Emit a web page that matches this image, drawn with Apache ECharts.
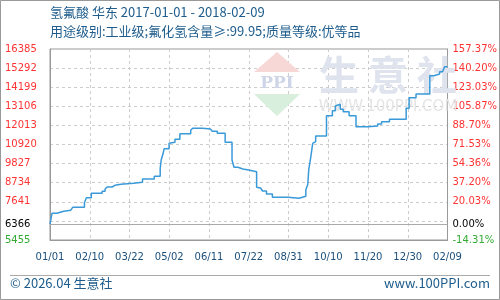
<!DOCTYPE html>
<html><head><meta charset="utf-8">
<script src="https://cdn.jsdelivr.net/npm/echarts@6/dist/echarts.min.js"></script>
<style>html,body{margin:0;padding:0;background:#fff}#c{width:500px;height:300px}</style>
</head><body><div id="c"></div>
<script>
const dates = ['2017-01-01','2017-01-03','2017-01-08','2017-01-15','2017-01-22','2017-01-24','2017-02-05','2017-02-07','2017-02-12','2017-02-23','2017-02-26','2017-02-28','2017-03-05','2017-03-08','2017-03-14','2017-03-27','2017-04-05','2017-04-17','2017-04-23','2017-04-24','2017-04-26','2017-04-27','2017-05-02','2017-05-04','2017-05-08','2017-05-13','2017-05-24','2017-05-26','2017-06-05','2017-06-07','2017-06-13','2017-06-15','2017-06-20','2017-06-28','2017-07-05','2017-07-07','2017-07-11','2017-07-16','2017-07-22','2017-07-30','2017-08-01','2017-08-03','2017-08-05','2017-08-09','2017-08-15','2017-08-31','2017-09-11','2017-09-13','2017-09-18','2017-09-20','2017-09-21','2017-09-23','2017-09-25','2017-09-27','2017-09-28','2017-10-09','2017-10-15','2017-10-18','2017-10-20','2017-10-23','2017-10-26','2017-11-01','2017-11-08','2017-11-20','2017-11-22','2017-11-30','2017-12-04','2017-12-12','2017-12-29','2018-01-01','2018-01-08','2018-01-22','2018-01-26','2018-02-01','2018-02-04','2018-02-06','2018-02-09'];
const values = [6366,6983,7097,7155,7229,7326,7600,7876,8127,8242,8373,8488,8585,8642,8700,8757,8945,9100,9557,10033,10416,10679,10988,11045,11217,11538,11732,11847,11904,11806,11766,11675,11560,11045,10033,9615,9518,9460,9363,8470,8430,8356,8259,8087,7898,7841,7898,7955,8316,8642,9500,10187,10988,11080,11406,12567,12853,13123,13220,12934,12796,12567,11938,11870,11978,12093,12224,12361,12991,13597,13809,14856,14954,15085,15183,15371,15371];
const xTickLabels = ['01/01','02/10','03/22','05/02','06/11','07/22','08/31','10/10','11/20','12/30','02/09'];
const leftTickValues = [16385,15292,14199,13106,12013,10920,9827,8734,7641,6366,5455];
const rightTickLabels = ['157.37%','140.20%','123.03%','105.87%','88.70%','71.53%','54.36%','37.20%','20.03%','0.00%','-14.31%'];
const baseValue = 6366;
const titleText = '氢氟酸 华东 2017-01-01 - 2018-02-09';
const subtitleText = '用途级别:工业级;氟化氢含量≥:99.95;质量等级:优等品';

const startMs = Date.UTC(2017,0,1);
function dayIndex(s){const p=s.split('-').map(Number);return Math.round((Date.UTC(p[0],p[1]-1,p[2])-startMs)/86400000);}
const seriesData = dates.map((d,i)=>[dayIndex(d), values[i]]);
const totalDays = dayIndex('2018-02-09');
const xInterval = totalDays/10;

function labelStyleName(v){return v>baseValue?'r':(v===baseValue?'k':'g');}
const richY = {
  r:{color:'#ff3333',fontSize:10,fontFamily:'DejaVu Sans'},
  k:{color:'#000000',fontSize:10,fontFamily:'DejaVu Sans'},
  g:{color:'#33aa33',fontSize:10,fontFamily:'DejaVu Sans'}
};

const chart = echarts.init(document.getElementById('c'), null, {renderer:'canvas'});
chart.setOption({
  animation:false,
  backgroundColor:'#fff',
  grid:{left:50,right:50,top:49,bottom:60,show:true,borderColor:'#999',borderWidth:1,backgroundColor:'transparent'},
  graphic:[
    {type:'rect',shape:{x:0.5,y:0.5,width:499,height:299},style:{fill:'none',stroke:'#999',lineWidth:1},z:0,silent:true},
    {type:'line',shape:{x1:10,y1:275.5,x2:490,y2:275.5},style:{stroke:'#aaa',lineWidth:1},silent:true},
    {type:'text',left:50,top:6,style:{text:titleText,fill:'#1d5c8c',font:'13px "Noto Sans CJK SC"'},silent:true},
    {type:'text',left:50,top:25,style:{text:subtitleText,fill:'#1d5c8c',font:'13px "Noto Sans CJK SC"'},silent:true},
    {type:'text',left:10,top:277,style:{text:'© 2026.04 生意社',fill:'#1d5c8c',font:'13px "Noto Sans CJK SC"'},silent:true},
    {type:'text',right:10,top:277,style:{text:'www.100PPI.com',fill:'#1d5c8c',font:'13px "Noto Sans CJK SC"'},silent:true},
    {type:'polygon',shape:{points:[[277,52],[300,72],[254,72]]},style:{fill:'#f8d8d6'},z:1,silent:true},
    {type:'polygon',shape:{points:[[254,94],[300,94],[277,116]]},style:{fill:'#d7efdc'},z:1,silent:true},
    {type:'text',x:277,y:84,style:{text:'PPI',fill:'#cdd5e6',font:'bold 17px "DejaVu Serif"',align:'center',verticalAlign:'middle'},z:1,silent:true},
    {type:'text',x:388,y:75,style:{text:'生 意 社',fill:'#dfe3ee',font:'bold 40px "Noto Sans CJK SC"',align:'center',verticalAlign:'middle'},z:1,silent:true},
    {type:'text',x:388,y:107,style:{text:'WWW.100PPI.COM',fill:'#e4e4e4',font:'15px "DejaVu Sans"',align:'center',verticalAlign:'middle'},z:1,silent:true}
  ],
  xAxis:{
    type:'value',min:0,max:totalDays,interval:xInterval,
    axisLine:{show:true,lineStyle:{color:'#999'}},
    axisTick:{show:false},
    splitLine:{show:true,lineStyle:{color:'#ccc',type:[3,3]}},
    axisLabel:{color:'#1b4f7a',fontSize:10,fontFamily:'DejaVu Sans',margin:12,
      formatter:(v)=>xTickLabels[Math.round(v/xInterval)]}
  },
  yAxis:[
    {type:'value',min:5455,max:16385,interval:1093,position:'left',
     axisLine:{show:true,lineStyle:{color:'#999'}},axisTick:{show:false},
     splitLine:{show:true,lineStyle:{color:'#ccc',type:[3,3]}},
     axisLabel:{customValues:leftTickValues,align:'left',margin:45,rich:richY,
       formatter:(v)=>'{'+labelStyleName(v)+'|'+v+'}'}},
    {type:'value',min:5455,max:16385,interval:1093,position:'right',
     axisLine:{show:true,lineStyle:{color:'#999'}},axisTick:{show:false},
     splitLine:{show:false},
     axisLabel:{customValues:leftTickValues,align:'left',margin:5,rich:richY,
       formatter:(v)=>{const i=leftTickValues.indexOf(v);return '{'+labelStyleName(v)+'|'+rightTickLabels[i]+'}';}}}
  ],
  series:[{
    type:'line',step:'end',data:seriesData,symbol:'none',
    lineStyle:{color:'#3a9ad9',width:1.5},z:5,
    markLine:{silent:true,symbol:'none',label:{show:false},
      lineStyle:{color:'#aaa',type:'solid',width:1},
      data:[{yAxis:baseValue}]}
  }]
});
</script></body></html>
